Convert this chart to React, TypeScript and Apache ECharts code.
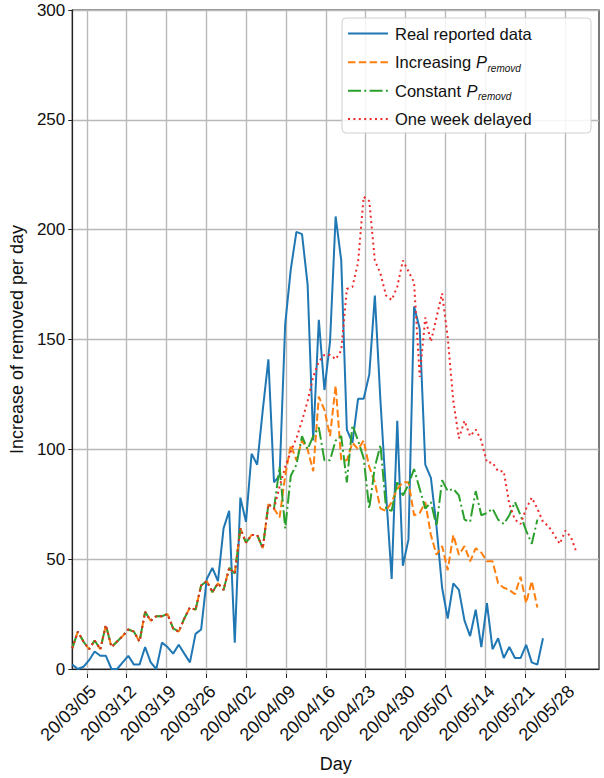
import React, { useEffect, useRef } from 'react';
import * as echarts from 'echarts';

// Day index is counted from 2020-03-05 (index 0); series start on 2020-03-01 (index -4)
const START_DAY = -4;
const X_MIN = -4;
const X_MAX = 90;
const TICK_FIRST = 0;
const TICK_LAST = 84;

const xTickLabels = [
  '20/03/05', '20/03/12', '20/03/19', '20/03/26', '20/04/02', '20/04/09', '20/04/16',
  '20/04/23', '20/04/30', '20/05/07', '20/05/14', '20/05/21', '20/05/28',
];

const yTicks = [0, 50, 100, 150, 200, 250, 300];

const realReported = [
  2, 0, 1, 4, 8, 6, 6, 0, 0, 3, 6, 2, 2, 10, 3, 0, 12, 10, 7, 11, 7, 3, 16, 18,
  41, 46, 40, 64, 72, 12, 78, 67, 98, 93, 118, 141, 85, 88, 157, 182, 199, 198, 175,
  104, 159, 127, 149, 206, 186, 109, 103, 123, 123, 134, 170, 122, 80, 41, 113, 47,
  59, 165, 155, 93, 87, 65, 37, 23, 39, 36, 22, 15, 27, 10, 30, 9, 14, 5, 10, 5, 5,
  11, 3, 2, 14,
];

const increasingP = [
  9.5, 17, 12.5, 9, 13, 9, 20, 10, 12.5, 15, 18, 17, 12.5, 26, 22, 24, 24, 25, 18.5,
  17, 23, 28, 27, 38, 40, 35, 39, 36, 46, 43.5, 64, 57.5, 61, 61, 55, 75, 73,
  69, 88, 102, 95, 104, 100, 90, 124, 118, 106, 129, 95, 95, 103, 100, 104, 92, 85,
  73, 72, 76, 82, 85, 85, 70, 71, 76, 61, 52, 56, 45, 61, 52, 56, 49, 55, 53, 49, 49,
  39, 37, 36, 34, 42, 30, 40, 28,
];

const constantP = [
  9.5, 17, 12.5, 9, 13, 9, 20, 10, 12.5, 15, 18, 17, 12.5, 26, 22, 24, 24, 25, 18.5,
  17, 23, 28, 27, 38, 40, 35, 39, 36, 46, 43.5, 64, 57.5, 61, 61, 55, 75, 73,
  92, 64, 88, 93, 106, 100, 106, 110, 95, 95, 104, 106, 85, 111, 104, 96, 73, 92, 102,
  73, 72, 85, 79, 84, 91, 82, 73, 76, 65, 86, 81, 82, 79, 68, 67, 81, 70, 71, 73, 68,
  66, 70, 76, 70, 63, 57, 68,
];

const weekDelayed = [
  9.5, 17, 12.5, 9, 13, 9, 20, 10, 12.5, 15, 18, 17, 12.5, 26, 22, 24, 24, 25, 18.5,
  17, 23, 28, 27, 38, 40, 35, 39, 36, 46, 43.5, 64, 57.5, 61, 61, 55, 75, 73,
  83, 92, 99, 105, 113, 122, 133, 140, 143, 143, 141, 145, 173, 174, 185, 215, 213,
  186, 180, 170, 168, 174, 186, 181, 176, 133, 160, 149, 160, 171, 151, 122, 105, 113,
  106, 109, 104, 94, 94, 90, 90, 75, 68, 66, 73, 78, 73, 67, 65, 61, 57, 63, 60, 53,
];

const FONT = "'Liberation Sans', Arial, Helvetica, sans-serif";
const C_BLUE = '#1f77b4';
const C_ORANGE = '#ff7f0e';
const C_GREEN = '#2ca02c';
const C_RED = '#ee2b2b';
const DASH = [7.5, 3.3];
const DASHDOT = [13, 3.3, 2, 3.3];
const DOT = [2, 3.4];

// plot frame in pixels
const PLOT_L = 64;
const PLOT_R = 599;
const PLOT_T = 10;
const PLOT_B = 674;

const toPairs = (arr: number[]) => arr.map((v, i) => [START_DAY + i, v]);

export default function App() {
  const ref = useRef<HTMLDivElement>(null);

  useEffect(() => {
    if (!ref.current) return;
    const chart = echarts.init(ref.current, undefined, { renderer: 'svg' });
    const W = 604;
    const H = 778;
    const pxPerDay = (PLOT_R - PLOT_L) / (X_MAX - X_MIN);
    const tickL = PLOT_L + (TICK_FIRST - X_MIN) * pxPerDay;
    const tickR = PLOT_L + (TICK_LAST - X_MIN) * pxPerDay;

    const legendRows = [
      { y: 33.5, color: C_BLUE, dash: null as number[] | null },
      { y: 62.3, color: C_ORANGE, dash: DASH },
      { y: 90.7, color: C_GREEN, dash: DASHDOT },
      { y: 119, color: C_RED, dash: DOT },
    ];

    const legendGraphics: any[] = [
      {
        type: 'rect',
        z: 100,
        shape: { x: 342, y: 18, width: 249, height: 115, r: 4 },
        style: { fill: 'rgba(255,255,255,0.85)', stroke: '#d0d0d0', lineWidth: 1 },
      },
    ];
    legendRows.forEach((r) => {
      legendGraphics.push({
        type: 'line',
        z: 101,
        shape: { x1: 348, y1: r.y, x2: 388, y2: r.y },
        style: { stroke: r.color, lineWidth: 2, lineDash: r.dash || undefined },
      });
    });
    const txt = (x: number, y: number, text: string, size: number, italic = false) => ({
      type: 'text',
      z: 101,
      x,
      y,
      style: {
        text,
        fontSize: size,
        fontFamily: FONT,
        fontStyle: italic ? 'italic' : 'normal',
        fill: '#111',
        align: 'left',
        verticalAlign: 'middle',
      },
    });
    legendGraphics.push(txt(395, 33.5, 'Real reported data', 16.5));
    legendGraphics.push(txt(395, 62.3, 'Increasing ', 16.5));
    legendGraphics.push(txt(476, 62.3, 'P', 16.5, true));
    legendGraphics.push(txt(487.5, 68.5, 'removd', 10, true));
    legendGraphics.push(txt(395, 90.7, 'Constant ', 16.5));
    legendGraphics.push(txt(466.5, 90.7, 'P', 16.5, true));
    legendGraphics.push(txt(478, 96.9, 'removd', 10, true));
    legendGraphics.push(txt(395, 119, 'One week delayed', 16.5));

    const gridLine = { show: true, lineStyle: { color: '#b9b9b9', width: 1.4 } };
    const axisCol = '#222';

    chart.setOption({
      animation: false,
      backgroundColor: '#ffffff',
      grid: [
        {
          left: PLOT_L,
          right: W - PLOT_R,
          top: PLOT_T,
          bottom: H - PLOT_B,
          show: true,
          borderColor: axisCol,
          borderWidth: 1.2,
          backgroundColor: 'transparent',
        },
        {
          left: tickL,
          right: W - tickR,
          top: PLOT_T,
          bottom: H - PLOT_B,
          show: false,
        },
      ],
      xAxis: [
        {
          gridIndex: 0,
          type: 'value',
          min: X_MIN,
          max: X_MAX,
          name: 'Day',
          nameLocation: 'middle',
          nameGap: 86,
          nameTextStyle: { fontSize: 18, color: '#111', fontFamily: FONT },
          axisLine: { show: true, onZero: false, lineStyle: { color: axisCol, width: 1.2 } },
          axisTick: { show: false },
          axisLabel: { show: false },
          splitLine: { show: false },
        },
        {
          gridIndex: 1,
          type: 'value',
          min: TICK_FIRST,
          max: TICK_LAST,
          interval: 7,
          axisLine: { show: false, onZero: false },
          axisTick: { show: true, length: 4, lineStyle: { color: axisCol, width: 1 } },
          axisLabel: {
            rotate: 45,
            fontSize: 18,
            color: '#111',
            fontFamily: FONT,
            margin: 8,
            align: 'right',
            verticalAlign: 'top',
            formatter: (v: number) => xTickLabels[Math.round((v - TICK_FIRST) / 7)] ?? '',
          },
          splitLine: gridLine,
        },
      ],
      yAxis: [
        {
          gridIndex: 0,
          type: 'value',
          min: yTicks[0],
          max: yTicks[yTicks.length - 1],
          interval: 50,
          name: 'Increase of removed per day',
          nameLocation: 'middle',
          nameGap: 40,
          nameTextStyle: { fontSize: 18, color: '#111', fontFamily: FONT },
          axisLine: { show: true, onZero: false, lineStyle: { color: axisCol, width: 1.2 } },
          axisTick: { show: true, length: 4, lineStyle: { color: axisCol, width: 1 } },
          axisLabel: { fontSize: 17, color: '#111', fontFamily: FONT, margin: 7 },
          splitLine: gridLine,
        },
        {
          gridIndex: 1,
          type: 'value',
          min: yTicks[0],
          max: yTicks[yTicks.length - 1],
          show: false,
        },
      ],
      series: [
        {
          name: 'Real reported data',
          type: 'line',
          xAxisIndex: 0,
          yAxisIndex: 0,
          data: toPairs(realReported),
          symbol: 'none',
          showSymbol: false,
          lineStyle: { color: C_BLUE, width: 2 },
          itemStyle: { color: C_BLUE },
        },
        {
          name: 'Increasing P removd',
          type: 'line',
          xAxisIndex: 0,
          yAxisIndex: 0,
          data: toPairs(increasingP),
          symbol: 'none',
          showSymbol: false,
          lineStyle: { color: C_ORANGE, width: 2, type: DASH },
          itemStyle: { color: C_ORANGE },
        },
        {
          name: 'Constant P removd',
          type: 'line',
          xAxisIndex: 0,
          yAxisIndex: 0,
          data: toPairs(constantP),
          symbol: 'none',
          showSymbol: false,
          lineStyle: { color: C_GREEN, width: 2, type: DASHDOT },
          itemStyle: { color: C_GREEN },
        },
        {
          name: 'One week delayed',
          type: 'line',
          xAxisIndex: 0,
          yAxisIndex: 0,
          data: toPairs(weekDelayed),
          symbol: 'none',
          showSymbol: false,
          lineStyle: { color: C_RED, width: 2, type: DOT },
          itemStyle: { color: C_RED },
        },
      ],
      graphic: legendGraphics,
    });

    return () => chart.dispose();
  }, []);

  return (
    <div
      ref={ref}
      style={{ position: 'fixed', left: 0, top: 0, width: 604, height: 778, background: '#fff' }}
    />
  );
}
